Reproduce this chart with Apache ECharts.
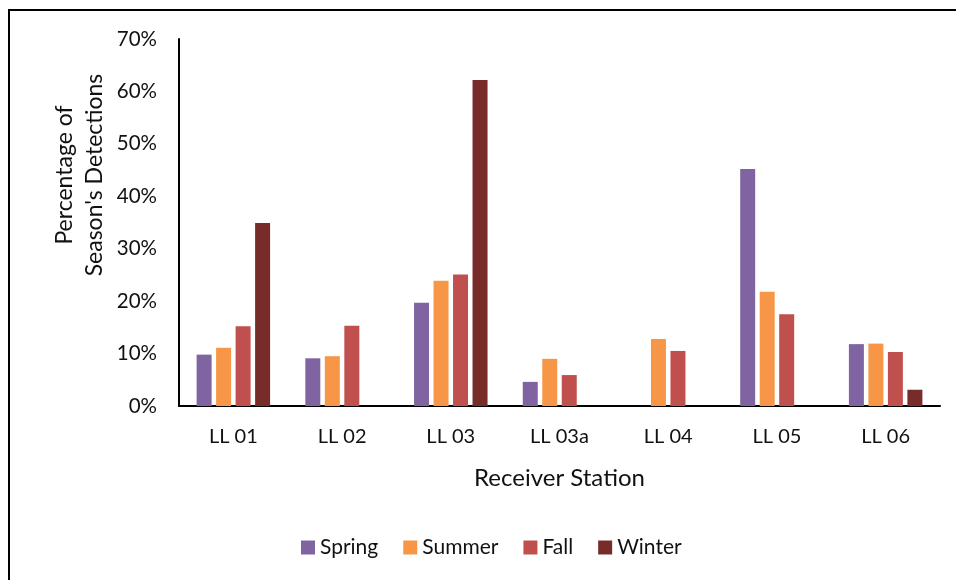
<!DOCTYPE html>
<html>
<head>
<meta charset="utf-8">
<script src="https://cdn.jsdelivr.net/npm/echarts@6/dist/echarts.min.js"></script>
<style>
  html, body { margin: 0; padding: 0; background: #fff; }
  #chart { width: 956px; height: 580px; }
</style>
</head>
<body>
<div id="chart"></div>
<script>
// receiver stations on the x axis
var stations = ['LL 01', 'LL 02', 'LL 03', 'LL 03a', 'LL 04', 'LL 05', 'LL 06']
// percent of each season's detections (null = no bar)
var spring = [9.8, 9.1, 19.7, 4.6, null, 45.2, 11.8]
var summer = [11.1, 9.5, 23.9, 9.0, 12.8, 21.8, 11.9]
var fall = [15.2, 15.3, 25.1, 5.9, 10.5, 17.5, 10.3]
var winter = [34.9, null, 62.2, null, null, null, 3.1]
var yTicks = [0, 10, 20, 30, 40, 50, 60, 70]

var font = 'Lato, "Open Sans", sans-serif'

function barSeries(name, data, color) {
  return {
    name: name,
    type: 'bar',
    data: data,
    barWidth: 15,
    barGap: '30%',
    itemStyle: { color: color }
  }
}

var chart = echarts.init(document.getElementById('chart'), null, { renderer: 'canvas' })
chart.setOption({
  animation: false,
  textStyle: { fontFamily: font },
  grid: { left: 179, top: 39, right: 16, bottom: 174 },
  legend: {
    left: 296,
    top: 532,
    itemWidth: 14,
    itemHeight: 14,
    itemGap: 25,
    icon: 'rect',
    textStyle: { fontSize: 21, color: '#111', fontFamily: font },
    data: ['Spring', 'Summer', 'Fall', 'Winter']
  },
  xAxis: {
    type: 'category',
    data: stations,
    name: 'Receiver Station',
    nameLocation: 'middle',
    nameGap: 60,
    nameTextStyle: { fontSize: 24, color: '#111', fontFamily: font },
    axisLine: { lineStyle: { color: '#000', width: 2 } },
    axisTick: { show: false },
    axisLabel: { fontSize: 20, color: '#111', margin: 21, fontFamily: font }
  },
  yAxis: {
    type: 'value',
    min: yTicks[0],
    max: yTicks[yTicks.length - 1],
    interval: 10,
    splitLine: { show: false },
    axisLine: { show: true, lineStyle: { color: '#000', width: 2 } },
    axisTick: { show: false },
    axisLabel: { fontSize: 20.5, color: '#111', margin: 22, fontFamily: font, formatter: '{value}%' }
  },
  graphic: [
    {
      type: 'polyline',
      shape: { points: [[9, 580], [9, 10], [956, 10]] },
      style: { stroke: '#000', lineWidth: 2, fill: null }
    },
    {
      type: 'text',
      x: 80,
      y: 175,
      rotation: Math.PI / 2,
      style: {
        text: 'Percentage of\nSeason\'s Detections',
        fontSize: 23,
        lineHeight: 30,
        fontFamily: font,
        fill: '#111',
        align: 'center',
        verticalAlign: 'middle'
      }
    }
  ],
  series: [
    barSeries('Spring', spring, '#8064A2'),
    barSeries('Summer', summer, '#F79646'),
    barSeries('Fall', fall, '#C0504D'),
    barSeries('Winter', winter, '#772C2A')
  ]
})
</script>
</body>
</html>
